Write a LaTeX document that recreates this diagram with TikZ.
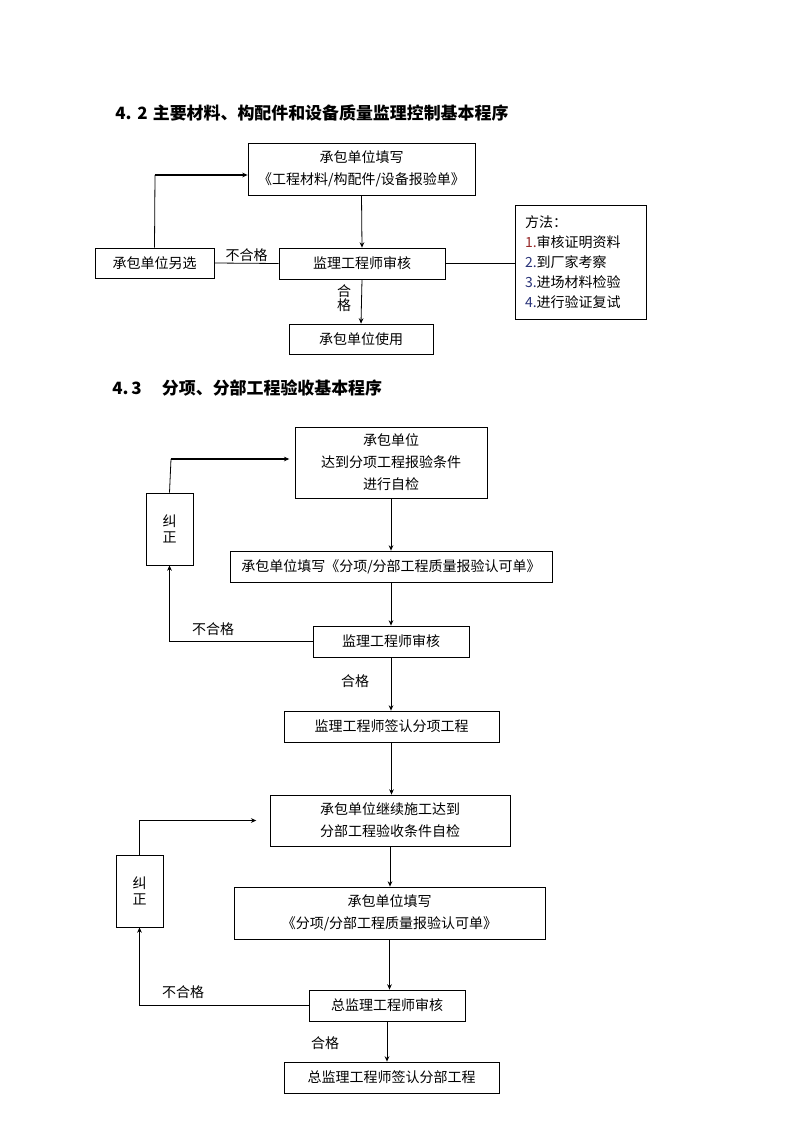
\documentclass[tikz,border=0pt]{standalone}
\usepackage{fontspec}
\setmainfont{Noto Sans CJK SC}
\usepackage{tikz}
\usepackage{color}
\usetikzlibrary{arrows.meta}
\definecolor{numred}{RGB}{150,40,40}
\definecolor{numblue}{RGB}{40,50,120}
\tikzset{
  flowbox/.style={draw, line width=0.6pt, inner sep=0pt, align=center,
    font=\fontsize{10.5pt}{16.5pt}\selectfont},
  flowline/.style={line width=0.6pt},
  arr/.style={flowline, -{Stealth[length=4pt,width=3.5pt]}},
  lbl/.style={inner sep=0.75pt, font=\fontsize{10.5pt}{12pt}\selectfont},
  heading/.style={anchor=west, inner sep=0pt, font=\fontsize{12.7pt}{14pt}\selectfont\bfseries}
}

\begin{document}
\begin{tikzpicture}[x=0.75pt,y=0.75pt,yscale=-1,xscale=1]
\useasboundingbox (0,0) rectangle (794,1123);

% Text Node
\node [heading] (head42) at (115,113) {4.\hspace{0.35em}2\hspace{0.3em}主要材料、构配件和设备质量监理控制基本程序};

%Shape: Rectangle
\node [flowbox, minimum width=170.25pt, minimum height=39pt] (fill) at (361.5,169) {承包单位填写\\《工程材料/构配件/设备报验单》};
\node [flowbox, minimum width=124.5pt, minimum height=23.25pt] (check) at (362,263.5) {监理工程师审核};
\node [flowbox, minimum width=89.25pt, minimum height=22.5pt] (alt) at (154.5,263) {承包单位另选};
\node [flowbox, minimum height=85.5pt, text width=83.25pt, inner xsep=7.5pt, align=left,
  font=\fontsize{10.5pt}{15pt}\selectfont] (method) at (580.5,262)
  {方法：\\\textcolor{numred}{1.}审核证明资料\\\textcolor{numblue}{2.}到厂家考察\\\textcolor{numblue}{3.}进场材料检验\\\textcolor{numblue}{4.}进行验证复试};
\node [flowbox, minimum width=108pt, minimum height=22.5pt] (use) at (361,339) {承包单位使用};

%Straight Lines
\coordinate (ret1) at (155,175);
\draw [arr] (fill.south) -- (check.north);
\draw [flowline] (alt.north) -- (ret1);
\draw [arr, line width=1.2pt] (ret1) -- (ret1 -| fill.west);
\draw [flowline] (alt.east) -- node [lbl, above] {不合格} (check.west);
\draw [flowline] (check.east) -- (check.east -| method.west);
\draw [arr] (check.south) -- (use.north);
% Text Node
\node [lbl, align=center, font=\fontsize{10.5pt}{10.5pt}\selectfont] (pass1) at (344,298) {合\\格};

% Text Node
\node [heading] (head43) at (112,388) {4.\,3\hspace{1.2em}分项、分部工程验收基本程序};

%Shape: Rectangle
\node [flowbox, minimum width=144pt, minimum height=53.25pt] (selfa) at (391,462.5) {承包单位\\达到分项工程报验条件\\进行自检};
\node [flowbox, minimum width=35.25pt, minimum height=54pt, font=\fontsize{10.5pt}{12pt}\selectfont] (fixa) at (169.5,529) {纠\\正};
\node [flowbox, minimum width=241.5pt, minimum height=23.25pt] (forma) at (391,566.5) {承包单位填写《分项/分部工程质量报验认可单》};
\node [flowbox, minimum width=117pt, minimum height=23.25pt] (checka) at (391,641.5) {监理工程师审核};
\node [flowbox, minimum width=161.25pt, minimum height=23.25pt] (signa) at (391.5,726.5) {监理工程师签认分项工程};
\node [flowbox, minimum width=180pt, minimum height=38.25pt] (selfb) at (390,820.5) {承包单位继续施工达到\\分部工程验收条件自检};
\node [flowbox, minimum width=35.25pt, minimum height=54pt, font=\fontsize{10.5pt}{12pt}\selectfont] (fixb) at (139.5,891) {纠\\正};
\node [flowbox, minimum width=233.25pt, minimum height=39pt] (formb) at (389.5,913) {承包单位填写\\《分项/分部工程质量报验认可单》};
\node [flowbox, minimum width=117pt, minimum height=23.25pt] (checkb) at (387,1005.5) {总监理工程师审核};
\node [flowbox, minimum width=161.25pt, minimum height=23.25pt] (signb) at (391.5,1077.5) {总监理工程师签认分部工程};

%Straight Lines
\draw [arr] (selfa.south) -- (selfa.south |- forma.north);
\draw [arr] (forma.south) -- (forma.south |- checka.north);
\draw [arr] (checka.south) -- (checka.south |- signa.north);
\draw [arr] (signa.south) -- (signa.south |- selfb.north);
\draw [arr] (selfb.south) -- (selfb.south |- formb.north);
\draw [arr] (formb.south) -- (formb.south |- checkb.north);
\draw [arr] (checkb.south) -- (checkb.south |- signb.north);
% return loops
\coordinate (ret2) at (171,459);
\draw [flowline] (fixa.north) -- (ret2);
\draw [arr, line width=1.2pt] (ret2) -- ([xshift=-4]ret2 -| selfa.west);
\draw [arr] (checka.west) -| (fixa.south);
\draw [arr] (fixb.north) |- ([xshift=-10]selfb.west);
\draw [arr] (checkb.west) -| (fixb.south);

% Text Node
\node [lbl] (faila) at (213,629) {不合格};
\node [lbl] (passa) at (355,681) {合格};
\node [lbl] (failb) at (183,992) {不合格};
\node [lbl] (passb) at (325,1043) {合格};

\end{tikzpicture}
\end{document}
